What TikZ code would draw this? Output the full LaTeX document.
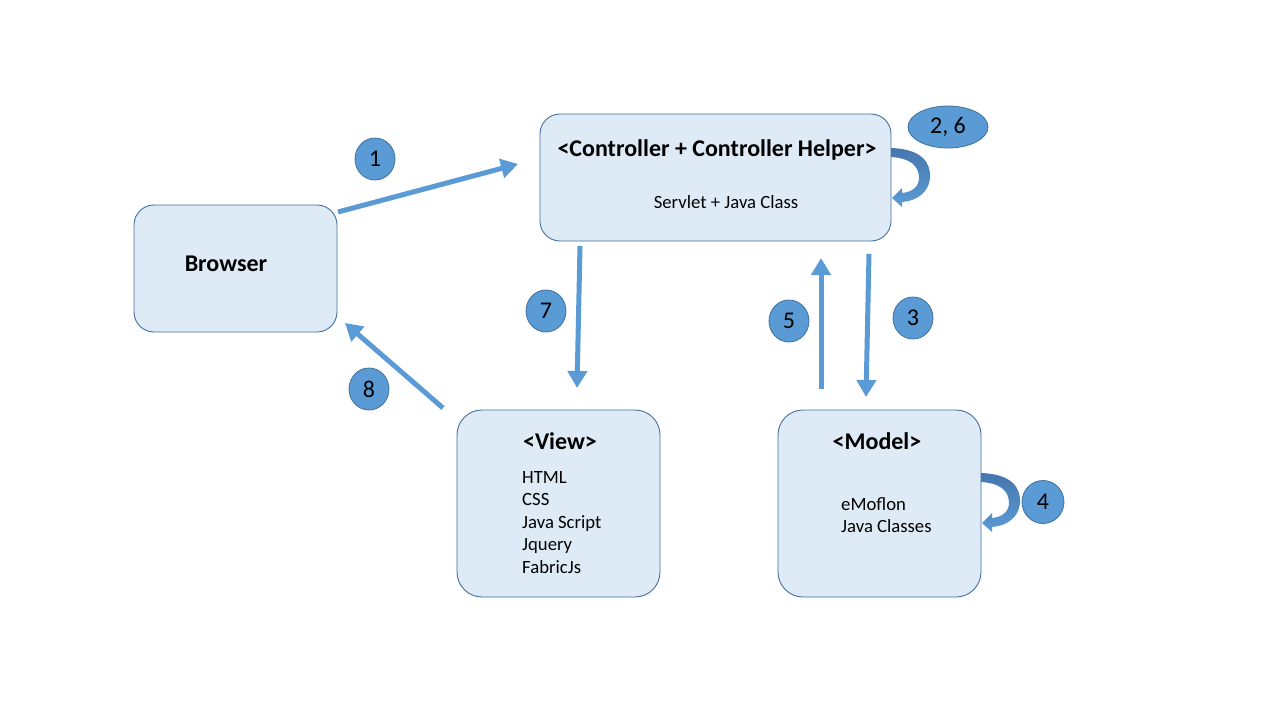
\documentclass[tikz,border=0pt]{standalone}
\usepackage{fontspec}
\setmainfont{Carlito}
\usetikzlibrary{arrows.meta,shapes.geometric}
\definecolor{boxfill}{HTML}{DEEBF7}
\definecolor{boxline}{HTML}{41719C}
\definecolor{accent}{HTML}{5B9BD5}
\definecolor{accentdark}{HTML}{4677AE}
\tikzset{
  box/.style={draw=boxline, line width=0.9pt, fill=boxfill, rounded corners=20pt, inner sep=0pt},
  title/.style={font=\fontsize{24}{28}\selectfont\bfseries, inner sep=0pt},
  body/.style={font=\fontsize{18.7}{22.5}\selectfont, inner sep=0pt, align=left},
  badge/.style={draw=boxline, line width=0.8pt, fill=accent, ellipse, inner sep=0pt, font=\fontsize{24}{28}\selectfont},
  flow/.style={draw=accent, line width=5pt, -{Triangle[length=17pt,width=19pt]}},
  looparrow/.pic={
    \shade[top color=accentdark, bottom color=accent, draw=none]
      (0,0) .. controls (30,1) and (40,14) .. (39,30)
      .. controls (38,44) and (26,53) .. (11,54)
      -- (11,59) -- (1,50) -- (11,40) -- (11,45)
      .. controls (22,44) and (28,38) .. (28,30)
      .. controls (28,17) and (18,10) .. (0,9) -- cycle;
  }
}
\begin{document}
\begin{tikzpicture}[x=1pt,y=-1pt]
\useasboundingbox[fill=white] (0,0) rectangle (1280,720);
% boxes
\node[box, minimum width=203pt, minimum height=127pt] (browser) at (235.5,268.5) {};
\node[box, minimum width=351pt, minimum height=127pt] (ctrl) at (715.5,177.5) {};
\node[box, minimum width=203pt, minimum height=187pt, rounded corners=25pt] (view) at (558.5,503.5) {};
\node[box, minimum width=203pt, minimum height=187pt, rounded corners=25pt] (model) at (879.5,503.5) {};
% texts
\node[title] (browsert) at (226,264) {Browser};
\node[title] (ctrlt) at (717,150) {<Controller + Controller Helper>};
\node[body] (ctrlb) at (726,202) {Servlet + Java Class};
\node[title] (viewt) at (560,441) {<View>};
\node[body, anchor=north west] (viewb) at (522,471) {HTML\\CSS\\Java Script\\Jquery\\FabricJs};
\node[title] (modelt) at (877,441) {<Model>};
\node[body, anchor=north west] (modelb) at (841,497) {eMoflon\\Java Classes};
% self loops
\pic at (891,148) {looparrow};
\pic at (981,473) {looparrow};
% arrow endpoints
\coordinate (a1s) at (338,212); \coordinate (a1e) at (518,164);
\coordinate (a7s) at (580,246); \coordinate (a7e) at (577,388);
\coordinate (a5s) at (821,389); \coordinate (a5e) at (821,258);
\coordinate (a3s) at (869,254); \coordinate (a3e) at (866,397);
\coordinate (a8s) at (443,408); \coordinate (a8e) at (345,323);
\draw[flow] (a1s) -- (a1e);
\draw[flow] (a7s) -- (a7e);
\draw[flow] (a5s) -- (a5e);
\draw[flow] (a3s) -- (a3e);
\draw[flow] (a8s) -- (a8e);
% badges
\node[badge, minimum width=40pt, minimum height=42pt] (b1) at (375,159) {1};
\node[badge, minimum width=80pt, minimum height=42pt] (b26) at (948,127) {2, 6};
\node[badge, minimum width=40pt, minimum height=42pt] (b7) at (546,311) {7};
\node[badge, minimum width=40pt, minimum height=42pt] (b5) at (789,321) {5};
\node[badge, minimum width=40pt, minimum height=42pt] (b3) at (913,318) {3};
\node[badge, minimum width=40pt, minimum height=42pt] (b8) at (369,389) {8};
\node[badge, minimum width=42pt, minimum height=43pt] (b4) at (1043,502) {4};
\end{tikzpicture}
\end{document}
